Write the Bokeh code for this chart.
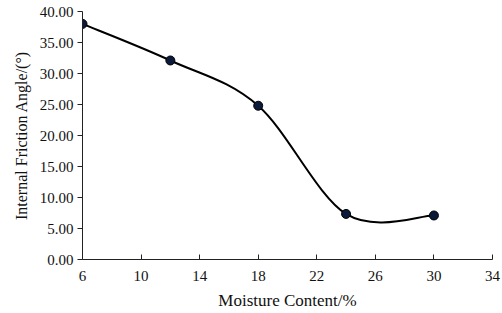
from bokeh.plotting import figure
from bokeh.models import Range1d, FixedTicker, NumeralTickFormatter, ColumnDataSource
from bokeh.embed import file_html
from bokeh.resources import INLINE

moisture = [6, 12, 18, 24, 30]
friction_angle = [38.0, 32.1, 24.8, 7.35, 7.1]
x_ticks = [6, 10, 14, 18, 22, 26, 30, 34]
y_ticks = [0, 5, 10, 15, 20, 25, 30, 35, 40]

# Excel-style smoothed line: cubic Bezier segments with Catmull-Rom control points
n = len(moisture)
x0s, y0s, x1s, y1s, cx0s, cy0s, cx1s, cy1s = [], [], [], [], [], [], [], []
for i in range(n - 1):
    xp, yp = moisture[max(i - 1, 0)], friction_angle[max(i - 1, 0)]
    xa, ya = moisture[i], friction_angle[i]
    xb, yb = moisture[i + 1], friction_angle[i + 1]
    xn, yn = moisture[min(i + 2, n - 1)], friction_angle[min(i + 2, n - 1)]
    x0s.append(xa); y0s.append(ya); x1s.append(xb); y1s.append(yb)
    cx0s.append(xa + (xb - xp) / 6); cy0s.append(ya + (yb - yp) / 6)
    cx1s.append(xb - (xn - xa) / 6); cy1s.append(yb - (yn - ya) / 6)

seg = ColumnDataSource(dict(x0=x0s, y0=y0s, x1=x1s, y1=y1s, cx0=cx0s, cy0=cy0s, cx1=cx1s, cy1=cy1s))

p = figure(width=502, height=313, output_backend="svg", toolbar_location=None,
           x_range=Range1d(6, 34), y_range=Range1d(0, 40),
           min_border_left=82, min_border_right=10, min_border_top=11, min_border_bottom=54)

p.bezier(x0="x0", y0="y0", x1="x1", y1="y1", cx0="cx0", cy0="cy0", cx1="cx1", cy1="cy1",
         source=seg, line_color="black", line_width=2)
p.scatter(moisture, friction_angle, size=9, fill_color="#0b1a3a", line_color="#000000", line_width=1)

p.grid.visible = False
p.outline_line_color = None
p.background_fill_color = "white"
p.border_fill_color = "white"

font = "Liberation Serif"
p.xaxis.ticker = FixedTicker(ticks=x_ticks)
p.yaxis.ticker = FixedTicker(ticks=y_ticks)
p.yaxis.formatter = NumeralTickFormatter(format="0.00")

for ax in (p.xaxis, p.yaxis):
    ax.axis_line_color = "#222222"
    ax.axis_line_width = 1
    ax.major_tick_line_color = "#222222"
    ax.minor_tick_line_color = None
    ax.major_label_text_font = font
    ax.major_label_text_font_size = "15px"
    ax.major_label_text_color = "#111111"
    ax.axis_label_text_font = font
    ax.axis_label_text_font_style = "normal"
    ax.axis_label_text_color = "#111111"

p.xaxis.major_tick_in = 5
p.xaxis.major_tick_out = 0
p.xaxis.major_label_standoff = 11
p.xaxis.axis_label = "Moisture Content/%"
p.xaxis.axis_label_text_font_size = "17px"
p.xaxis.axis_label_standoff = 7

p.yaxis.major_tick_in = 0
p.yaxis.major_tick_out = 5
p.yaxis.major_label_standoff = 4
p.yaxis.axis_label = "Internal Friction Angle/(°)"
p.yaxis.axis_label_text_font_size = "16px"
p.yaxis.axis_label_standoff = 7

open("out.html", "w").write(file_html(p, INLINE))
